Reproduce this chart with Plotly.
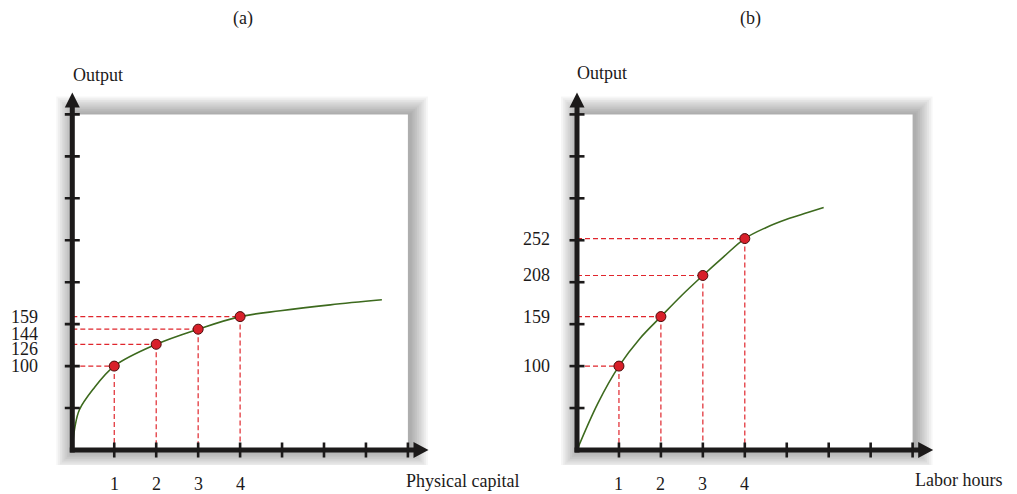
import plotly.graph_objects as go

# ---------------- data ----------------
# Panel (a): output vs physical capital
capital_points = [1, 2, 3, 4]
capital_output = [100, 126, 144, 159]
capital_curve_x = [0, 0.02, 0.064, 0.17, 0.49, 1, 2, 3, 4, 4.96, 6.15, 7.38]
capital_curve_y = [0, 12, 28, 48, 72, 100, 126, 144, 159, 166, 173, 179]

# Panel (b): output vs labor hours
labor_points = [1, 2, 3, 4]
labor_output = [100, 159, 208, 252]
labor_curve_x = [0, 0.5, 1, 1.5, 2, 2.5, 3, 3.5, 4, 4.5, 5, 5.5, 5.88]
labor_curve_y = [0, 56, 100, 133, 159, 184.5, 208, 230.5, 252, 265, 275, 283, 289]

x_ticks = [1, 2, 3, 4, 5, 6, 7, 8]
y_ticks = [50, 100, 150, 200, 250, 300, 350, 400]
x_tick_labels = ["1", "2", "3", "4"]

panel_titles = ["(a)", "(b)"]
x_titles = ["Physical capital", "Labor hours"]
y_title = "Output"

# ---------------- layout constants ----------------
W, H = 1017, 494
UNIT = 41.95          # pixels per x unit (and per 50 y units)
Y_PER_TICK = 50.0
FONT = "Liberation Serif"
INK = "#1c1a1a"
RED = "#e0262d"
GREEN = "#3d6a1e"


def px_x(p):
    return p / UNIT


def px_y(p):
    return p / UNIT * Y_PER_TICK


panels = [
    dict(ox=72.3, oy=450, xa="x", ya="y", px=capital_points, py=capital_output,
         cx=capital_curve_x, cy=capital_curve_y, lab_gap=32, lab_shift=[0, -4.6, -4.7, 0],
         title_x=243, out_x=98, out_y=75, xt_x=462, xt_y=481),
    dict(ox=577.0, oy=450, xa="x2", ya="y2", px=labor_points, py=labor_output,
         cx=labor_curve_x, cy=labor_curve_y, lab_gap=25, lab_shift=[0, 0, 0, 0],
         title_x=750, out_x=602, out_y=73, xt_x=958, xt_y=480),
]

fig = go.Figure()
shapes = []
annotations = []
layout_axes = {}

LEFT_PAD, RIGHT_PAD, TOP_PX, BOTTOM_PX = 25, 372, 82, 465
X_ARROW_TIP, X_ARROW_BASE, X_LINE_END = 356.2, 341.2, 343.0   # px from origin
Y_ARROW_TIP, Y_ARROW_BASE, Y_LINE_END = 357.5, 342.5, 344.0   # px from origin

for i, p in enumerate(panels):
    ox, oy = p["ox"], p["oy"]
    xa, ya = p["xa"], p["ya"]
    xkey = "xaxis" if xa == "x" else "xaxis2"
    ykey = "yaxis" if ya == "y" else "yaxis2"
    layout_axes[xkey] = dict(
        domain=[(ox - LEFT_PAD) / W, (ox + RIGHT_PAD) / W],
        range=[-px_x(LEFT_PAD), px_x(RIGHT_PAD)],
        visible=False, fixedrange=True, anchor=ya,
    )
    layout_axes[ykey] = dict(
        domain=[1 - BOTTOM_PX / H, 1 - TOP_PX / H],
        range=[-px_y(BOTTOM_PX - oy), px_y(oy - TOP_PX)],
        visible=False, fixedrange=True, anchor=xa,
    )

    # soft shadow behind the white box
    for k in range(10, 0, -1):
        e = k * 1.8
        shapes.append(dict(
            type="rect", xref=xa, yref=ya, layer="below",
            x0=-px_x(e) + px_x(2), x1=8 + px_x(e) + px_x(2),
            y0=-px_y(e), y1=400 + px_y(e),
            fillcolor="rgba(0,0,0,0.036)", line=dict(width=0),
        ))
    shapes.append(dict(
        type="rect", xref=xa, yref=ya, layer="below",
        x0=0, x1=8, y0=0, y1=400, fillcolor="white", line=dict(width=0),
    ))

    # dashed guide lines
    dx, dy = [], []
    for xv, yv in zip(p["px"], p["py"]):
        dx += [0, xv, None, xv, xv, None]
        dy += [yv, yv, None, yv, 0, None]
    fig.add_trace(go.Scatter(
        x=dx, y=dy, xaxis=xa, yaxis=ya, mode="lines",
        line=dict(color=RED, width=1.2, dash="5px,3px"), hoverinfo="skip",
    ))

    # production curve
    fig.add_trace(go.Scatter(
        x=p["cx"], y=p["cy"], xaxis=xa, yaxis=ya, mode="lines",
        line=dict(color=GREEN, width=1.6, shape="spline", smoothing=1.0),
        hoverinfo="skip",
    ))

    # axes lines
    fig.add_trace(go.Scatter(
        x=[0, 0, None, -px_x(2.5), px_x(X_LINE_END)],
        y=[-px_y(2.5), px_y(Y_LINE_END), None, 0, 0],
        xaxis=xa, yaxis=ya, mode="lines",
        line=dict(color=INK, width=5), hoverinfo="skip",
    ))
    # arrowheads
    tip_x, base_x, hw = px_x(X_ARROW_TIP), px_x(X_ARROW_BASE), px_y(8)
    shapes.append(dict(
        type="path", xref=xa, yref=ya, layer="above",
        path=f"M {base_x},{-hw} L {tip_x},0 L {base_x},{hw} Z",
        fillcolor=INK, line=dict(width=0),
    ))
    tip_y, base_y, hwx = px_y(Y_ARROW_TIP), px_y(Y_ARROW_BASE), px_x(7.5)
    shapes.append(dict(
        type="path", xref=xa, yref=ya, layer="above",
        path=f"M {-hwx},{base_y} L 0,{tip_y} L {hwx},{base_y} Z",
        fillcolor=INK, line=dict(width=0),
    ))

    # crossing tick marks
    tx, ty = [], []
    for xv in x_ticks:
        tx += [xv, xv, None]
        ty += [-px_y(7.5), px_y(7.5), None]
    for yv in y_ticks:
        tx += [-px_x(7.5), px_x(7.5), None]
        ty += [yv, yv, None]
    fig.add_trace(go.Scatter(
        x=tx, y=ty, xaxis=xa, yaxis=ya, mode="lines",
        line=dict(color=INK, width=2.6), hoverinfo="skip",
    ))

    # points
    fig.add_trace(go.Scatter(
        x=p["px"], y=p["py"], xaxis=xa, yaxis=ya, mode="markers",
        marker=dict(size=10, color="#d8202a", line=dict(color="#4a0c0c", width=1)),
        hoverinfo="skip",
    ))

    # x tick labels
    for xv, t in zip(p["px"], x_tick_labels):
        annotations.append(dict(
            xref=xa, yref=ya, x=xv, y=0, yshift=-34, text=t, showarrow=False,
            xanchor="center", yanchor="middle",
            font=dict(family=FONT, size=18, color=INK),
        ))
    # y value labels
    for yv, sh in zip(p["py"], p["lab_shift"]):
        annotations.append(dict(
            xref=xa, yref=ya, x=0, y=yv, xshift=-p["lab_gap"], yshift=sh,
            xanchor="right", yanchor="middle", text=str(yv), showarrow=False,
            font=dict(family=FONT, size=18, color=INK),
        ))
    # titles
    for txt, cx, cy in [(panel_titles[i], p["title_x"], 18),
                        (y_title, p["out_x"], p["out_y"]),
                        (x_titles[i], p["xt_x"], p["xt_y"])]:
        annotations.append(dict(
            xref="paper", yref="paper", x=cx / W, y=1 - cy / H,
            xanchor="center", yanchor="middle",
            text=txt, showarrow=False,
            font=dict(family=FONT, size=18, color=INK),
        ))

fig.update_layout(
    width=W, height=H, autosize=False,
    margin=dict(l=0, r=0, t=0, b=0),
    paper_bgcolor="white", plot_bgcolor="rgba(0,0,0,0)",
    showlegend=False, hovermode=False,
    shapes=shapes, annotations=annotations,
    **layout_axes,
)

fig.write_html(
    "out.html",
    config={"displayModeBar": False},
    post_script="document.body.style.margin='0px';document.body.style.overflow='hidden';",
)
